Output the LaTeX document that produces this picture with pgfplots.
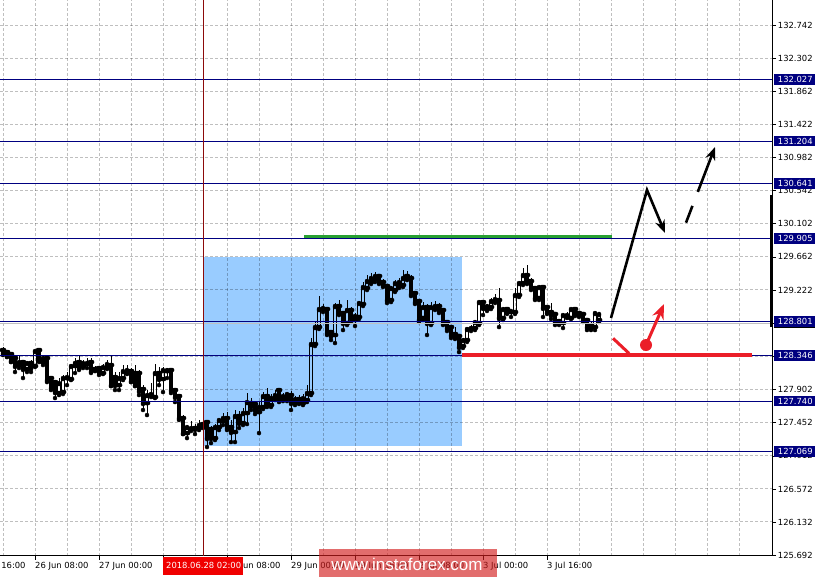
\documentclass[border=0pt]{standalone}
\usepackage{pgfplots}
\pgfplotsset{compat=1.18}
\usepackage{pgfplotstable}
\usetikzlibrary{arrows.meta}
\usepackage{fontspec}
\setmainfont{DejaVu Sans}
\newfontfamily\wmfont{Liberation Sans}
\definecolor{mtnavy}{RGB}{0,0,128}
\definecolor{rectblue}{RGB}{153,204,255}
\definecolor{lvgreen}{RGB}{40,160,50}
\definecolor{lvred}{RGB}{235,30,40}
\definecolor{xred}{RGB}{140,10,10}
\definecolor{tagred}{RGB}{240,0,0}
\definecolor{wmred}{RGB}{210,30,30}
\definecolor{bidgray}{RGB}{192,192,192}
\pgfplotsset{cndl/.style={only marks, mark=none, forget plot,
  error bars/.cd, y dir=plus, y explicit, error mark=none,
  error bar style={black, solid, line width=#1}}}

\pgfplotstableread{
x o h l c
3 128.422 128.462 128.355 128.382
7 128.395 128.422 128.329 128.342
11 128.369 128.382 128.262 128.276
15 128.315 128.329 128.129 128.209
19 128.222 128.342 128.182 128.262
23 128.262 128.289 128.049 128.169
27 128.169 128.276 128.129 128.249
31 128.249 128.289 128.129 128.182
35 128.209 128.422 128.196 128.409
39 128.422 128.449 128.262 128.289
43 128.262 128.342 128.222 128.315
47 128.315 128.329 127.995 128.022
51 128.049 128.076 127.889 127.915
55 127.995 128.022 127.782 127.862
59 127.849 128.049 127.822 127.982
63 127.862 128.089 127.836 128.049
67 128.049 128.129 127.955 128.062
71 128.036 128.236 128.022 128.209
75 128.209 128.315 128.116 128.249
79 128.262 128.355 128.156 128.182
83 128.209 128.289 128.182 128.249
87 128.236 128.315 128.182 128.249
91 128.262 128.315 128.116 128.142
95 128.169 128.209 128.142 128.156
99 128.182 128.209 128.089 128.129
103 128.116 128.236 128.102 128.196
107 128.182 128.289 128.169 128.236
111 128.222 128.355 127.942 127.955
115 128.062 128.129 127.889 127.955
119 127.955 128.129 127.889 128.049
123 128.049 128.222 128.022 128.142
127 128.116 128.222 128.102 128.156
131 128.142 128.182 127.995 128.009
135 128.116 128.222 127.942 127.955
139 128.116 128.156 127.822 127.876
143 127.902 127.955 127.623 127.716
147 127.716 127.889 127.556 127.822
151 127.822 127.982 127.796 127.836
155 127.796 128.236 127.782 128.116
159 128.116 128.196 127.955 128.036
163 128.036 128.196 127.862 128.156
167 128.142 128.182 128.049 128.156
171 128.156 128.169 127.849 127.889
175 127.889 127.915 127.729 127.796
179 127.809 127.822 127.490 127.516
183 127.516 127.556 127.303 127.316
187 127.316 127.423 127.249 127.396
191 127.370 127.476 127.343 127.383
195 127.383 127.436 127.303 127.370
199 127.383 127.490 127.356 127.423
203 127.436 127.490 127.383 127.410
207 127.463 127.490 127.130 127.249
211 127.370 127.410 127.183 127.249
215 127.249 127.436 127.223 127.396
219 127.396 127.516 127.356 127.490
223 127.476 127.583 127.423 127.516
227 127.516 127.596 127.356 127.383
231 127.396 127.490 127.196 127.330
235 127.330 127.623 127.196 127.543
239 127.543 127.609 127.383 127.450
243 127.450 127.649 127.423 127.583
247 127.583 127.849 127.436 127.729
251 127.716 127.782 127.623 127.676
255 127.703 127.742 127.569 127.623
259 127.596 127.729 127.316 127.663
263 127.663 127.862 127.636 127.809
267 127.809 127.915 127.663 127.689
271 127.689 127.836 127.663 127.782
275 127.782 127.889 127.756 127.822
279 127.889 127.915 127.729 127.756
283 127.769 127.849 127.742 127.809
287 127.782 127.862 127.742 127.836
291 127.822 127.876 127.623 127.716
295 127.716 127.809 127.689 127.769
299 127.769 127.822 127.703 127.729
303 127.716 127.836 127.689 127.782
307 127.756 127.955 127.729 127.849
311 127.849 128.582 127.822 128.502
315 128.502 128.795 128.475 128.728
319 128.728 129.141 128.702 128.968
323 128.968 129.035 128.928 128.982
327 128.968 128.995 128.622 128.648
331 128.662 128.688 128.555 128.609
335 128.622 129.048 128.515 129.008
339 129.008 129.088 128.888 128.915
343 128.915 128.942 128.688 128.782
347 128.782 129.088 128.755 128.955
351 128.955 128.995 128.795 128.849
355 128.822 128.915 128.742 128.875
359 128.862 129.075 128.835 129.048
363 129.035 129.328 129.008 129.261
367 129.248 129.421 129.221 129.341
371 129.328 129.448 129.301 129.381
375 129.368 129.461 129.328 129.408
379 129.408 129.435 129.301 129.328
383 129.328 129.368 129.261 129.288
387 129.275 129.301 129.048 129.088
391 129.088 129.275 129.061 129.248
395 129.221 129.354 129.195 129.314
399 129.275 129.381 129.248 129.328
403 129.288 129.488 129.261 129.381
407 129.408 129.475 129.354 129.381
411 129.381 129.421 129.141 129.168
415 129.181 129.208 129.035 129.061
419 129.075 129.101 128.795 128.822
423 128.849 129.061 128.822 128.995
427 128.995 129.035 128.622 128.782
431 128.782 129.061 128.755 128.995
435 128.982 129.075 128.955 129.008
439 129.008 129.048 128.915 128.955
443 128.955 128.982 128.755 128.782
447 128.795 128.822 128.675 128.715
451 128.728 128.755 128.582 128.622
455 128.635 128.728 128.569 128.595
459 128.609 128.635 128.395 128.462
463 128.475 128.582 128.449 128.555
467 128.555 128.728 128.529 128.702
471 128.702 128.755 128.675 128.715
475 128.715 128.822 128.688 128.795
479 128.782 129.088 128.755 129.061
483 129.061 129.088 128.888 128.982
487 128.968 129.035 128.942 129.008
491 128.995 129.115 128.968 129.075
495 129.075 129.168 129.048 129.101
499 129.088 129.248 128.728 128.849
503 128.849 128.995 128.822 128.968
507 128.968 128.995 128.902 128.928
511 128.928 128.955 128.862 128.942
515 128.928 129.248 128.902 129.155
519 129.155 129.341 129.128 129.314
523 129.314 129.514 129.288 129.421
527 129.421 129.554 129.301 129.328
531 129.341 129.381 129.221 129.248
535 129.248 129.275 129.088 129.115
539 129.115 129.288 129.088 129.261
543 129.261 129.288 128.862 128.982
547 128.995 129.021 128.902 128.928
551 128.928 129.048 128.835 128.888
555 128.902 128.928 128.755 128.795
559 128.808 128.835 128.755 128.782
563 128.782 128.915 128.715 128.888
567 128.875 128.928 128.849 128.888
571 128.849 128.982 128.835 128.968
575 128.968 128.982 128.875 128.902
579 128.915 128.942 128.862 128.888
583 128.902 128.928 128.795 128.822
587 128.822 128.849 128.688 128.728
591 128.755 128.795 128.688 128.715
595 128.728 128.942 128.688 128.915
599 128.822 128.928 128.795 128.902
}\candles

\begin{document}
\begin{tikzpicture}[font=\fontsize{8.4}{10}\selectfont]
\begin{axis}[
  at={(0pt,21pt)}, anchor=south west,
  scale only axis, width=772pt, height=556pt,
  xmin=0, xmax=772, ymin=125.679, ymax=133.084,
  set layers, clip mode=individual,
  axis x line*=bottom, axis y line*=right,
  axis line style={black, line width=1pt},
  xtick={35,99,163,227,291,355,419,483,547},
  minor xtick={3,67,131,195,259,323,387,451,515,579,611,643,675,707,739},
  ytick={125.692,126.132,126.572,127.012,127.452,127.902,128.342,128.782,129.222,129.662,130.102,130.542,130.982,131.422,131.862,132.302,132.742},
  xticklabels=\empty, yticklabels=\empty,
  tick align=outside, major tick length=4pt, minor tick length=0pt,
  tick style={black, line width=0.8pt},
  grid=both,
  major grid style={black, opacity=0.25, line width=1pt, dash pattern=on 3pt off 2pt},
  minor grid style={black, opacity=0.25, line width=1pt, dash pattern=on 3pt off 2pt},
]
% background rectangle
\addplot[on layer=axis background, fill=rectblue, draw=none, forget plot]
  coordinates {(204,127.148) (462,127.148) (462,129.657) (204,129.657)};
% upper wicks
\addplot[cndl=1pt] table[x=x, y expr={max(\thisrow{o},\thisrow{c})},
  y error expr={\thisrow{h}-max(\thisrow{o},\thisrow{c})}] {\candles};
% lower wicks
\addplot[cndl=1pt] table[x=x, y=l,
  y error expr={min(\thisrow{o},\thisrow{c})-\thisrow{l}}] {\candles};
% filled bodies (falling or tiny candles)
\addplot[cndl=3.2pt] table[x=x, y expr={min(\thisrow{o},\thisrow{c})},
  y error expr={(1-max(min((\thisrow{c}-\thisrow{o}-0.029)*100000,1),0))*max(abs(\thisrow{c}-\thisrow{o}),0.0133)}] {\candles};
% hollow bodies of rising candles: left and right edges
\addplot[cndl=1pt] table[x expr={\thisrow{x}-1.1}, y=o,
  y error expr={max(min((\thisrow{c}-\thisrow{o}-0.029)*100000,1),0)*(\thisrow{c}-\thisrow{o})}] {\candles};
\addplot[cndl=1pt] table[x expr={\thisrow{x}+1.1}, y=o,
  y error expr={max(min((\thisrow{c}-\thisrow{o}-0.029)*100000,1),0)*(\thisrow{c}-\thisrow{o})}] {\candles};
% hollow bodies: bottom and top caps
\addplot[cndl=3.2pt] table[x=x, y=o,
  y error expr={max(min((\thisrow{c}-\thisrow{o}-0.029)*100000,1),0)*0.0133}] {\candles};
\addplot[cndl=3.2pt] table[x=x, y expr={\thisrow{c}-0.0133},
  y error expr={max(min((\thisrow{c}-\thisrow{o}-0.029)*100000,1),0)*0.0133}] {\candles};

% bid line
\draw[bidgray, line width=1pt] (axis cs:0,128.782) -- (axis cs:772,128.782);
% level lines
\pgfplotsinvokeforeach{132.027,131.204,130.641,129.905,128.801,128.346,127.740,127.069}{
  \draw[mtnavy, line width=1pt] (axis cs:0,#1) -- (axis cs:772,#1);
}
% time cursor
\draw[xred, line width=1pt] (axis cs:203,125.679) -- (axis cs:203,133.084);
% green and red levels
\draw[lvgreen, line width=3pt] (axis cs:304,129.934) -- (axis cs:612,129.934);
\draw[lvred, line width=3.5pt] (axis cs:462,128.356) -- (axis cs:752,128.356);
% black arrows
\draw[black, line width=2.6pt, -{Stealth[length=13pt,width=10pt]}]
  (axis cs:611,128.849) -- (axis cs:647,130.553) -- (axis cs:665,129.981);
\draw[black, line width=2.6pt, dash pattern=on 18pt off 15pt on 200pt, -{Stealth[length=13pt,width=10pt]}]
  (axis cs:686,130.118) -- (axis cs:715,131.126);
% red arrow
\draw[lvred, line width=3pt] (axis cs:613,128.578) -- (axis cs:629,128.378);
\fill[lvred] (axis cs:646,128.489) circle (6pt);
\draw[lvred, line width=3pt, -{Stealth[length=15pt,width=12pt]}]
  (axis cs:646,128.489) -- (axis cs:664,129.035);
% thick bar on price scale
\draw[black, line width=3pt] (axis cs:771.5,130.487) -- (axis cs:771.5,128.729);
% price labels
\pgfplotsinvokeforeach{125.692,126.132,126.572,127.012,127.452,127.902,128.342,128.782,129.222,129.662,130.102,130.542,130.982,131.422,131.862,132.302,132.742}{
  \node[anchor=west, inner sep=0pt] at ([xshift=5.7pt]axis cs:772,#1) {#1};
}
\node[anchor=west, fill=black, inner sep=0pt, minimum height=10pt, minimum width=41pt] at ([xshift=1.3pt]axis cs:772,128.782) {};
\pgfplotsinvokeforeach{132.027,131.204,130.641,129.905,128.801,128.346,127.740,127.069}{
  \node[anchor=west, fill=mtnavy, text=white, inner sep=0pt, minimum height=10.5pt]
    at ([xshift=1.3pt]axis cs:772,#1) {\makebox[41.5pt][l]{\hspace{4.4pt}#1}};
}
\end{axis}
% time labels
\node[anchor=base west, inner sep=0pt] at (-28pt,8pt) {25 Jun 16:00};
\node[anchor=base west, inner sep=0pt] at (35pt,8pt) {26 Jun 08:00};
\node[anchor=base west, inner sep=0pt] at (99pt,8pt) {27 Jun 00:00};
\node[anchor=base west, inner sep=0pt] at (227pt,8pt) {28 Jun 08:00};
\node[anchor=base west, inner sep=0pt] at (291pt,8pt) {29 Jun 00:00};
\node[anchor=base west, inner sep=0pt] at (355pt,8pt) {29 Jun 16:00};
\node[anchor=base west, inner sep=0pt] at (419pt,8pt) {2 Jul 08:00};
\node[anchor=base west, inner sep=0pt] at (483pt,8pt) {3 Jul 00:00};
\node[anchor=base west, inner sep=0pt] at (547pt,8pt) {3 Jul 16:00};
% cursor time tag
\fill[tagred] (163pt,2pt) rectangle (243pt,20pt);
\node[anchor=base west, inner sep=0pt, text=white] at (166pt,8pt) {2018.06.28 02:00};
% watermark
\fill[wmred, opacity=0.65] (319pt,-1pt) rectangle (497pt,28pt);
\node[text=white, inner sep=0pt] at (407pt,13pt) {\wmfont\fontsize{17}{17}\selectfont www.instaforex.com};
\pgfresetboundingbox
\path[use as bounding box] (0,0) rectangle (816pt,577pt);
\end{tikzpicture}
\end{document}
